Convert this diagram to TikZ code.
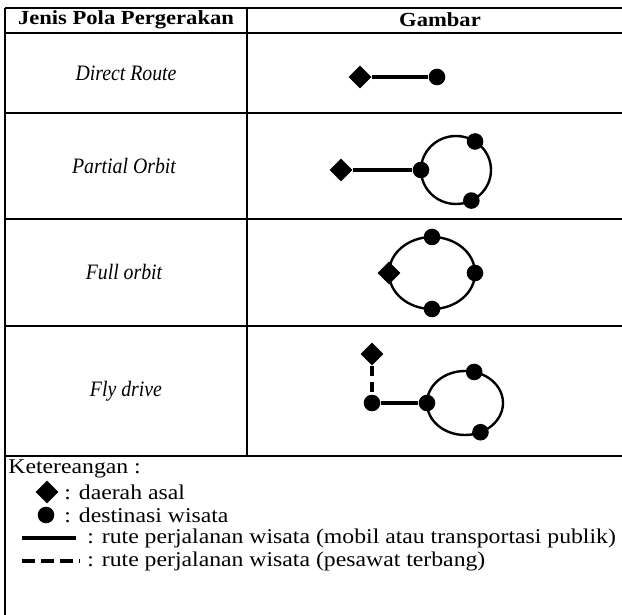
\documentclass[tikz,border=0pt]{standalone}
\usepackage{fontspec}
\setmainfont{Liberation Serif}[FakeStretch=1.13]
\newfontfamily\rowfont{Liberation Serif}[FakeStretch=0.9]
\usetikzlibrary{shapes.geometric, calc}
\definecolor{ink}{HTML}{000000}
\tikzset{
  every picture/.style={x=0.5pt, y=-0.5pt, font=\fontsize{10.5pt}{11pt}\selectfont},
  tableline/.style={draw=ink, line width=1.25pt},
  origin/.style={diamond, fill=ink, inner sep=0pt, minimum size=11.5pt},
  dest/.style={circle, fill=ink, inner sep=0pt, minimum size=8.3pt},
  land/.style={draw=ink, line width=2.2pt},
  air/.style={draw=ink, line width=1.6pt, dash pattern=on 5pt off 3pt},
  ring/.style={draw=ink, line width=1.2pt},
  head/.style={font=\fontsize{10pt}{11pt}\selectfont\bfseries},
  rowlabel/.style={font=\rowfont\fontsize{11pt}{12pt}\selectfont\itshape},
  note/.style={anchor=west, inner sep=0pt},
}

\begin{document}
\begin{tikzpicture}
  \useasboundingbox (0,0) rectangle (622,615);
  % table
  \draw[tableline] (5,8) -- (622,8);
  \foreach \y in {33,113,219,326,456} \draw[tableline] (5,\y) -- (622,\y);
  \draw[tableline] (5,8) -- (5,615);
  \draw[tableline] (247,8) -- (247,456);
  \node[head] (hpola) at (126,20) {Jenis Pola Pergerakan};
  \node[head] (hgambar) at (440,20) {Gambar};
  % row labels
  \node[rowlabel] (direct) at (126,73) {Direct Route};
  \node[rowlabel] (partial) at (124,166) {Partial Orbit};
  \node[rowlabel] (full) at (124,272) {Full orbit};
  \node[rowlabel] (fly) at (126,391) {Fly drive};
  % direct route
  \node[origin] (o1) at (360,77) {};
  \node[dest] (d1) at (437,77) {};
  \draw[land] (o1) -- (d1);
  % partial orbit
  \coordinate (c2) at (456,170);
  \draw[ring] (c2) ellipse [x radius=35, y radius=34];
  \node[origin] (o2) at (341,170) {};
  \node[dest] (j2) at ($(c2)+(180:35 and 34)$) {};
  \node[dest] (d2a) at ($(c2)+(-57:35 and 34)$) {};
  \node[dest] (d2b) at ($(c2)+(64:35 and 34)$) {};
  \draw[land] (o2) -- (j2);
  % full orbit
  \coordinate (c3) at (432,273);
  \draw[ring] (c3) ellipse [x radius=43, y radius=36];
  \node[origin] (o3) at ($(c3)+(180:43 and 36)$) {};
  \node[dest] (d3a) at ($(c3)+(-90:43 and 36)$) {};
  \node[dest] (d3b) at ($(c3)+(0:43 and 36)$) {};
  \node[dest] (d3c) at ($(c3)+(90:43 and 36)$) {};
  % fly drive
  \coordinate (c4) at (465,403);
  \draw[ring] (c4) ellipse [x radius=38, y radius=32];
  \node[origin] (o4) at (372,354) {};
  \node[dest] (a4) at (372,403) {};
  \node[dest] (j4) at ($(c4)+(180:38 and 32)$) {};
  \node[dest] (d4a) at ($(c4)+(-76:38 and 32)$) {};
  \node[dest] (d4b) at ($(c4)+(66:38 and 32)$) {};
  \draw[air] (o4) -- (a4);
  \draw[land] (a4) -- (j4);
  % legend
  \node[note] (keterangan) at (8,469) {Ketereangan :};
  \node[origin] (ko) at (47,492) {};
  \node[note] (kotext) at (64,492) {: daerah asal};
  \node[dest] (kd) at (46,515) {};
  \node[note] (kdtext) at (64,515) {: destinasi wisata};
  \coordinate (ls1) at (22,538);
  \coordinate (ls2) at (76,538);
  \draw[land] (ls1) -- (ls2);
  \node[note] (lstext) at (87,538) {: rute perjalanan wisata (mobil atau transportasi publik)};
  \coordinate (la1) at (22,561);
  \coordinate (la2) at (80,561);
  \draw[air, dash pattern=on 6.5pt off 3pt] (la1) -- (la2);
  \node[note] (latext) at (87,561) {: rute perjalanan wisata (pesawat terbang)};
\end{tikzpicture}
\end{document}
